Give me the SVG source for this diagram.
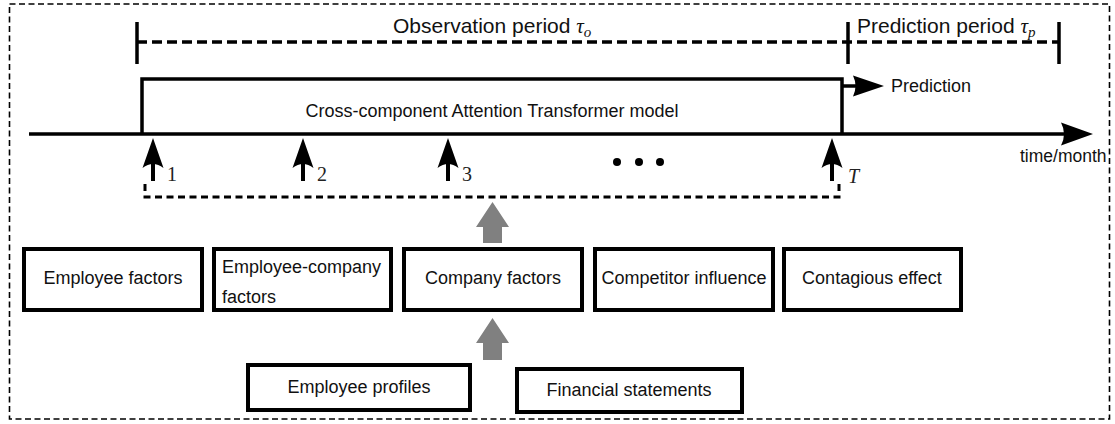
<svg xmlns="http://www.w3.org/2000/svg" width="1115" height="424" viewBox="0 0 1115 424">
<style>
  .sans { font-family: "Liberation Sans", Arial, sans-serif; fill: #111; }
  .lbl { font-size: 18px; }
  .title { font-size: 21px; }
  .math { font-family: "Liberation Serif", "DejaVu Serif", serif; font-style: italic; }
  .num { font-family: "Liberation Serif", "DejaVu Serif", serif; font-size: 20px; fill: #222; }
  .box { fill: #fff; stroke: #000; stroke-width: 4; }
  .thick { fill: none; stroke: #000; stroke-width: 3.5; }
  .gray { fill: #808080; }
  .blk { fill: #000; }
</style>
<rect width="1115" height="424" fill="#fff"/>
<!-- outer dashed frame -->
<rect x="9.5" y="4" width="1100" height="415" fill="none" stroke="#000" stroke-width="1.6" stroke-dasharray="6,3.5"/>

<g id="periods">
  <line x1="137" y1="42" x2="1059" y2="42" stroke="#000" stroke-width="3.5" stroke-dasharray="10,5"/>
  <line x1="137" y1="22" x2="137" y2="64" class="thick"/>
  <line x1="848" y1="22" x2="848" y2="64" class="thick"/>
  <line x1="1059" y1="22" x2="1059" y2="64" class="thick"/>
  <text x="393" y="33" class="sans title">Observation period <tspan class="math">τ</tspan><tspan class="math" font-size="15" dy="4">o</tspan></text>
  <text x="857" y="33" class="sans title">Prediction period <tspan class="math">τ</tspan><tspan class="math" font-size="15" dy="4">p</tspan></text>
</g>

<g id="model">
  <path d="M142,134 V79 H842 V134" class="thick"/>
  <text x="492" y="117" text-anchor="middle" class="sans lbl" font-size="17.5">Cross-component Attention Transformer model</text>
</g>

<g id="prediction">
  <text x="891" y="92" class="sans lbl" font-size="17.5">Prediction</text>
</g>

<g id="timeline">
  <line x1="29" y1="134" x2="1064" y2="134" stroke="#000" stroke-width="3.5"/>
  <path d="M1093,134 L1061,122.5 Q1067,134 1061,145.5 Z" class="blk"/>
  <text x="1020" y="162" class="sans" font-size="17.5">time/month</text>
  <circle cx="617" cy="162" r="4" class="blk"/>
  <circle cx="639" cy="162" r="4" class="blk"/>
  <circle cx="660" cy="162" r="4" class="blk"/>
  <text x="167" y="181" class="num">1</text>
  <text x="317" y="181" class="num">2</text>
  <text x="462" y="181" class="num">3</text>
  <text x="848" y="183" class="num math">T</text>
</g>

<g id="connectors">
  <!-- prediction arrow -->
  <line x1="842" y1="86" x2="856" y2="86" stroke="#000" stroke-width="3.5"/>
  <path d="M884,86 L853,75.5 Q858,86 853,96.5 Z" class="blk"/>
  <!-- time-step input arrows -->
  <g id="arrow-1">
    <line x1="153" y1="160" x2="153" y2="181" stroke="#000" stroke-width="4"/>
    <path d="M153,138 L142.5,168 Q153,160 163.5,168 Z" class="blk"/>
  </g>
  <g id="arrow-2">
    <line x1="303" y1="160" x2="303" y2="181" stroke="#000" stroke-width="4"/>
    <path d="M303,138 L292.5,168 Q303,160 313.5,168 Z" class="blk"/>
  </g>
  <g id="arrow-3">
    <line x1="448" y1="160" x2="448" y2="181" stroke="#000" stroke-width="4"/>
    <path d="M448,138 L437.5,168 Q448,160 458.5,168 Z" class="blk"/>
  </g>
  <g id="arrow-T">
    <line x1="832" y1="160" x2="832" y2="181" stroke="#000" stroke-width="4"/>
    <path d="M832,138 L821.5,168 Q832,160 842.5,168 Z" class="blk"/>
  </g>
  <!-- dashed bracket gathering the inputs -->
  <path d="M145,184 V197 H839 V184" fill="none" stroke="#000" stroke-width="3" stroke-dasharray="7,4.5"/>
  <!-- gray block arrows -->
  <path d="M492.5,202 L476,227 H483 V243 H502 V227 H509 Z" class="gray"/>
  <path d="M492.5,318 L476,343 H483 V360 H502 V343 H509 Z" class="gray"/>
</g>

<g id="employee-factors">
  <rect x="24" y="249" width="178" height="61" class="box"/>
  <text x="113" y="284" text-anchor="middle" class="sans lbl">Employee factors</text>
</g>
<g id="employee-company-factors">
  <rect x="214" y="249" width="177" height="61" class="box"/>
  <text x="222" y="273" class="sans lbl">Employee-company</text>
  <text x="222" y="303" class="sans lbl">factors</text>
</g>
<g id="company-factors">
  <rect x="404" y="249" width="178" height="61" class="box"/>
  <text x="493" y="284" text-anchor="middle" class="sans lbl">Company factors</text>
</g>
<g id="competitor-influence">
  <rect x="595" y="249" width="178" height="61" class="box"/>
  <text x="684" y="284" text-anchor="middle" class="sans lbl">Competitor influence</text>
</g>
<g id="contagious-effect">
  <rect x="784" y="249" width="177" height="61" class="box"/>
  <text x="872" y="284" text-anchor="middle" class="sans lbl">Contagious effect</text>
</g>
<g id="employee-profiles">
  <rect x="248" y="365" width="222" height="45" class="box"/>
  <text x="359" y="393" text-anchor="middle" class="sans lbl">Employee profiles</text>
</g>
<g id="financial-statements">
  <rect x="517" y="369" width="225" height="43" class="box"/>
  <text x="629" y="396" text-anchor="middle" class="sans lbl">Financial statements</text>
</g>
</svg>
